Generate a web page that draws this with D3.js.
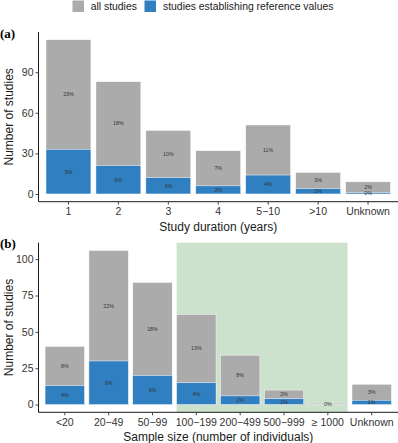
<!DOCTYPE html>
<html>
<head>
<meta charset="utf-8">
<script src="https://cdn.jsdelivr.net/npm/d3@7"></script>
<style>
  body { margin: 0; background: #fff; }
  svg { display: block; font-family: "Liberation Sans", Arial, sans-serif; }
</style>
</head>
<body>
<div id="chart"></div>
<script>
// Panel (a): study duration
const durCats = ["1", "2", "3", "4", "5\u221210", ">10", "Unknown"];
const durAll = [114, 83, 47, 32, 51, 16, 9];
const durRef = [33, 21, 12, 6, 14, 4, 1];
const durAllPct = ["23%", "18%", "10%", "7%", "11%", "3%", "2%"];
const durRefPct = ["9%", "6%", "3%", "2%", "4%", "1%", "0%"];
const durTicks = [0, 30, 60, 90];

// Panel (b): sample size
const sizeCats = ["<20", "20\u221249", "50\u221299", "100\u2212199", "200\u2212499", "500\u2212999", "\u2265 1000", "Unknown"];
const sizeAll = [40, 106, 84, 62, 34, 10, 1, 14];
const sizeRef = [13, 30, 20, 15, 6, 4, 0, 3];
const sizeAllPct = ["8%", "22%", "18%", "13%", "8%", "2%", "0%", "3%"];
const sizeRefPct = ["4%", "9%", "6%", "4%", "2%", "1%", "", "1%"];
const sizeTicks = [0, 25, 50, 75, 100];
const highlight = ["100\u2212199", "\u2265 1000"];

const grey = "#ababab";
const blue = "#2f7fc1";
const green = "#cce2cc";

const W = 398, H = 443;
const svg = d3.select("#chart").append("svg").attr("width", W).attr("height", H);

// Legend
const legend = svg.append("g");
[["all studies", grey, 72.5, 90.7], ["studies establishing reference values", blue, 144.5, 163]].forEach(([t, c, x, tx]) => {
  legend.append("rect").attr("x", x).attr("y", 0.5).attr("width", 11.5).attr("height", 11.5).attr("fill", c);
  legend.append("text").attr("x", tx).attr("y", 9.8).attr("font-size", 10.4).attr("fill", "#1a1a1a").text(t);
});

function panel(opt) {
  const { cats, all, ref, allPct, refPct, ticks, top, bottom, yMax, tag, title, hl } = opt;
  const left = 38.5, right = 398;
  // ggplot-like: bar width 0.9, 0.6 units of expansion at each end
  const x = d3.scaleBand().domain(cats).range([left, right]).paddingInner(0.1).paddingOuter(0.15);
  const pad = yMax * 0.05;
  const y = d3.scaleLinear().domain([-pad, yMax + pad]).range([bottom, top]);
  const g = svg.append("g");

  if (hl) {
    g.append("rect")
      .attr("x", x(hl[0])).attr("y", top)
      .attr("width", x(hl[1]) + x.bandwidth() - x(hl[0]))
      .attr("height", bottom - top)
      .attr("fill", green);
  }

  const rows = cats.map((c, i) => ({ c, a: all[i], r: ref[i], ap: allPct[i], rp: refPct[i] }));

  g.selectAll(".all").data(rows).join("rect")
    .attr("x", d => x(d.c)).attr("width", x.bandwidth())
    .attr("y", d => y(d.a)).attr("height", d => y(0) - y(d.a))
    .attr("fill", grey).attr("stroke", "#fff").attr("stroke-width", 0.5);

  g.selectAll(".ref").data(rows.filter(d => d.r > 0)).join("rect")
    .attr("x", d => x(d.c)).attr("width", x.bandwidth())
    .attr("y", d => y(d.r)).attr("height", d => y(0) - y(d.r))
    .attr("fill", blue).attr("stroke", "#fff").attr("stroke-width", 0.5);

  g.selectAll(".lblA").data(rows).join("text")
    .attr("x", d => x(d.c) + x.bandwidth() / 2)
    .attr("y", d => y((d.a + d.r) / 2))
    .attr("dy", "0.35em").attr("text-anchor", "middle")
    .attr("font-size", 5.3).attr("fill", "#333").text(d => d.ap);

  g.selectAll(".lblR").data(rows.filter(d => d.rp)).join("text")
    .attr("x", d => x(d.c) + x.bandwidth() / 2)
    .attr("y", d => y(d.r / 2))
    .attr("dy", "0.35em").attr("text-anchor", "middle")
    .attr("font-size", 5.3).attr("fill", "#333").text(d => d.rp);

  // axes
  const yAxis = g.append("g").attr("transform", `translate(${left},0)`)
    .call(d3.axisLeft(y).tickValues(ticks).tickSize(3).tickPadding(2));
  yAxis.select(".domain").attr("d", `M0,${bottom}V${top}`);
  const xAxis = g.append("g").attr("transform", `translate(0,${bottom})`)
    .call(d3.axisBottom(x).tickSize(3).tickPadding(3.2));
  xAxis.select(".domain").attr("d", `M${left},0H${right}`);
  [yAxis, xAxis].forEach(a => {
    a.select(".domain").attr("stroke", "#000").attr("stroke-width", 0.9);
    a.selectAll(".tick line").attr("stroke", "#333").attr("stroke-width", 0.9);
    a.selectAll(".tick text").attr("font-size", 10.5).attr("fill", "#333")
      .attr("font-family", "Liberation Sans, Arial, sans-serif");
  });

  g.append("text")
    .attr("transform", `translate(13,${(top + bottom) / 2}) rotate(-90)`)
    .attr("text-anchor", "middle").attr("font-size", 12).attr("fill", "#1a1a1a")
    .text("Number of studies");
  g.append("text")
    .attr("x", (left + right) / 2).attr("y", bottom + 28.8)
    .attr("text-anchor", "middle").attr("font-size", 12).attr("fill", "#1a1a1a")
    .text(title);
  g.append("text")
    .attr("x", 0).attr("y", top + 5.5)
    .attr("font-family", "Liberation Serif, Times New Roman, serif")
    .attr("font-weight", "bold").attr("font-size", 13)
    .text(tag);
}

panel({
  cats: durCats, all: durAll, ref: durRef, allPct: durAllPct, refPct: durRefPct,
  ticks: durTicks, top: 32, bottom: 201.7, yMax: d3.max(durAll),
  tag: "(a)", title: "Study duration (years)"
});
panel({
  cats: sizeCats, all: sizeAll, ref: sizeRef, allPct: sizeAllPct, refPct: sizeRefPct,
  ticks: sizeTicks, top: 242.7, bottom: 412.3, yMax: d3.max(sizeAll),
  tag: "(b)", title: "Sample size (number of individuals)", hl: highlight
});
</script>
</body>
</html>
